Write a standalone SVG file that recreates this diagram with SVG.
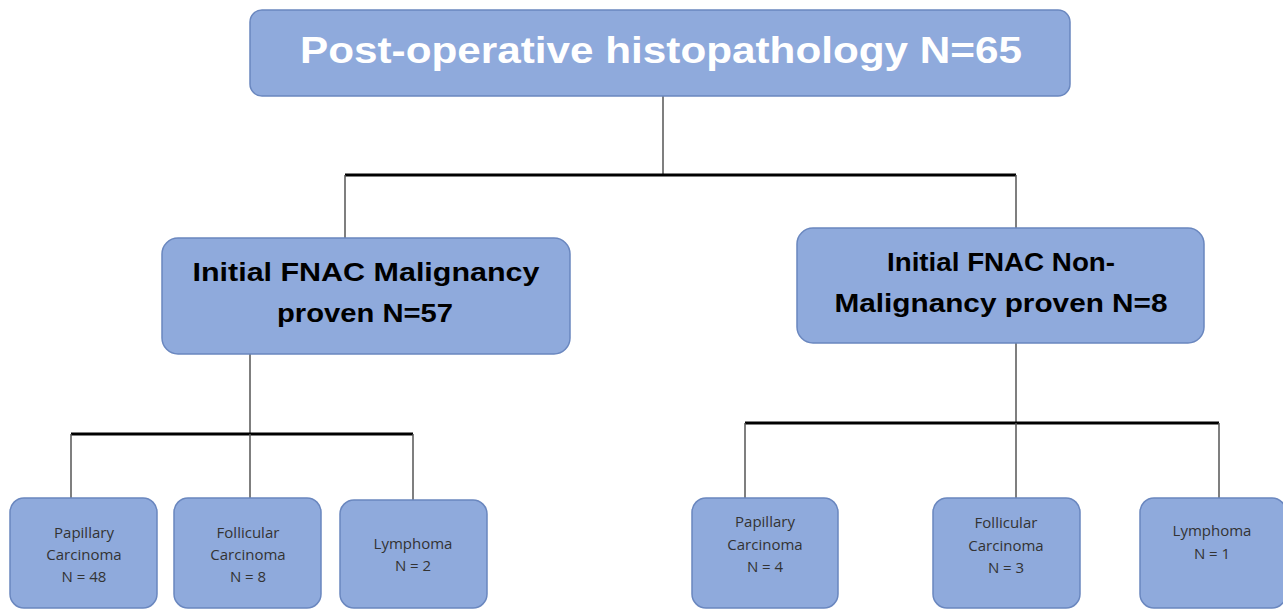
<svg xmlns="http://www.w3.org/2000/svg" width="1283" height="611" viewBox="0 0 1283 611">
<style>
.box{fill:#8FAADC;stroke:#6A87BF;stroke-width:1.5}
.thin{stroke:#555;stroke-width:1.5;fill:none}
.bar{stroke:#000;stroke-width:3;fill:none}
.top{font-family:"Liberation Sans",Arial,sans-serif;font-weight:bold;font-size:36px;fill:#fff}
.mid{font-family:"Liberation Sans",Arial,sans-serif;font-weight:bold;font-size:25px;fill:#000}
.leaf{font-family:"Open Sans","Liberation Sans",sans-serif;font-size:15px;fill:#333}
</style>
<g id="connectors">
<line class="thin" x1="663" y1="96" x2="663" y2="175"/>
<line class="bar" x1="345" y1="175" x2="1016" y2="175"/>
<line class="thin" x1="345" y1="175" x2="345" y2="238"/>
<line class="thin" x1="1016" y1="175" x2="1016" y2="228"/>
<line class="thin" x1="250" y1="354" x2="250" y2="434"/>
<line class="bar" x1="71" y1="434" x2="413" y2="434"/>
<line class="thin" x1="71" y1="434" x2="71" y2="498"/>
<line class="thin" x1="250" y1="434" x2="250" y2="498"/>
<line class="thin" x1="413" y1="434" x2="413" y2="500"/>
<line class="thin" x1="1016" y1="343" x2="1016" y2="423"/>
<line class="bar" x1="745" y1="423" x2="1219" y2="423"/>
<line class="thin" x1="745" y1="423" x2="745" y2="498"/>
<line class="thin" x1="1016" y1="423" x2="1016" y2="498"/>
<line class="thin" x1="1219" y1="423" x2="1219" y2="498"/>
</g>
<g id="root">
<rect class="box" x="250" y="10" width="820" height="86" rx="12"/>
<text class="top" x="661" y="63" text-anchor="middle" textLength="722" lengthAdjust="spacingAndGlyphs">Post-operative histopathology N=65</text>
</g>
<g id="malignant">
<rect class="box" x="162" y="238" width="408" height="116" rx="16"/>
<text class="mid" x="366" y="281" text-anchor="middle" textLength="347" lengthAdjust="spacingAndGlyphs">Initial FNAC Malignancy</text>
<text class="mid" x="365" y="322" text-anchor="middle" textLength="176" lengthAdjust="spacingAndGlyphs">proven N=57</text>
</g>
<g id="nonmalignant">
<rect class="box" x="797" y="228" width="407" height="115" rx="16"/>
<text class="mid" x="1001" y="271" text-anchor="middle" textLength="228" lengthAdjust="spacingAndGlyphs">Initial FNAC Non-</text>
<text class="mid" x="1001" y="312" text-anchor="middle" textLength="333" lengthAdjust="spacingAndGlyphs">Malignancy proven N=8</text>
</g>
<g id="papillary1">
<rect class="box" x="10" y="498" width="147" height="110" rx="14"/>
<text class="leaf" x="84" y="538" text-anchor="middle">Papillary</text>
<text class="leaf" x="84" y="560" text-anchor="middle">Carcinoma</text>
<text class="leaf" x="84" y="582" text-anchor="middle">N = 48</text>
</g>
<g id="follicular1">
<rect class="box" x="174" y="498" width="147" height="110" rx="14"/>
<text class="leaf" x="248" y="538" text-anchor="middle">Follicular</text>
<text class="leaf" x="248" y="560" text-anchor="middle">Carcinoma</text>
<text class="leaf" x="248" y="582" text-anchor="middle">N = 8</text>
</g>
<g id="lymphoma1">
<rect class="box" x="340" y="500" width="147" height="108" rx="14"/>
<text class="leaf" x="413" y="549" text-anchor="middle">Lymphoma</text>
<text class="leaf" x="413" y="571" text-anchor="middle">N = 2</text>
</g>
<g id="papillary2">
<rect class="box" x="692" y="498" width="146" height="110" rx="14"/>
<text class="leaf" x="765" y="527" text-anchor="middle">Papillary</text>
<text class="leaf" x="765" y="550" text-anchor="middle">Carcinoma</text>
<text class="leaf" x="765" y="572" text-anchor="middle">N = 4</text>
</g>
<g id="follicular2">
<rect class="box" x="933" y="498" width="147" height="110" rx="14"/>
<text class="leaf" x="1006" y="528" text-anchor="middle">Follicular</text>
<text class="leaf" x="1006" y="551" text-anchor="middle">Carcinoma</text>
<text class="leaf" x="1006" y="573" text-anchor="middle">N = 3</text>
</g>
<g id="lymphoma2">
<rect class="box" x="1140" y="498" width="146" height="110" rx="14"/>
<text class="leaf" x="1212" y="536" text-anchor="middle">Lymphoma</text>
<text class="leaf" x="1212" y="559" text-anchor="middle">N = 1</text>
</g>
</svg>
